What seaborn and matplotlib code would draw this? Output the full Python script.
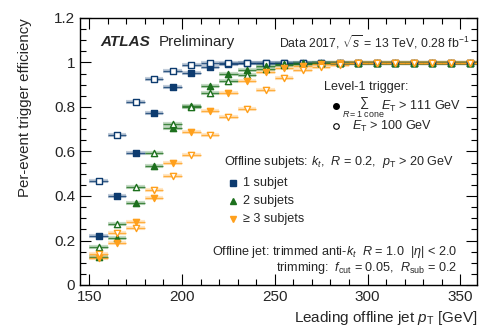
import numpy as np
import pandas as pd
import seaborn as sns
import matplotlib
matplotlib.use("Agg")
import matplotlib.pyplot as plt
from matplotlib.ticker import MultipleLocator

sns.set_theme(style="ticks")
plt.rcParams['font.family'] = ['Liberation Sans', 'DejaVu Sans']
plt.rcParams['mathtext.fontset'] = 'custom'
plt.rcParams['mathtext.rm'] = 'Liberation Sans'
plt.rcParams['mathtext.it'] = 'Liberation Sans:italic'
plt.rcParams['mathtext.bf'] = 'Liberation Sans:bold'

# ---- data ----
pt_bins = [155, 165, 175, 185, 195, 205, 215, 225, 235, 245, 255,
           265, 275, 285, 295, 305, 315, 325, 335, 345, 355]
one_filled = [0.222, 0.401, 0.592, 0.775, 0.888, 0.951, 0.979, 0.993, 0.998, 1.0, 1.0,
              1.0, 1.0, 1.0, 1.0, 1.0, 1.0, 1.0, 1.0, 1.0, 1.0]
one_open = [0.467, 0.674, 0.824, 0.925, 0.963, 0.987, 0.997, 0.999, 1.0, 1.0, 1.0,
            1.0, 1.0, 1.0, 1.0, 1.0, 1.0, 1.0, 1.0, 1.0, 1.0]
two_filled = [0.127, 0.213, 0.367, 0.536, 0.704, 0.803, 0.894, 0.948, 0.966, 0.984, 0.993,
              0.997, 0.999, 1.0, 1.0, 1.0, 1.0, 1.0, 1.0, 1.0, 1.0]
two_open = [0.172, 0.274, 0.442, 0.592, 0.724, 0.801, 0.862, 0.918, 0.944, 0.971, 0.988,
            0.995, 0.998, 1.0, 1.0, 1.0, 1.0, 1.0, 1.0, 1.0, 1.0]
three_filled = [0.120, 0.187, 0.285, 0.390, 0.547, 0.686, 0.783, 0.862, 0.918, 0.959, 0.974,
                0.985, 0.993, 0.997, 1.0, 1.0, 1.0, 1.0, 1.0, 1.0, 1.0]
three_open = [0.139, 0.232, 0.258, 0.427, 0.490, 0.584, 0.674, 0.757, 0.790, 0.876, 0.929,
              0.966, 0.981, 0.990, 0.996, 1.0, 1.0, 1.0, 1.0, 1.0, 1.0]
bin_half_width = 5

navy = '#0d3b6f'
green = '#1d701d'
orange = '#ffa01c'

series = [
    ("1 subjet, sum", one_filled, navy, 's', True),
    ("1 subjet, single", one_open, navy, 's', False),
    ("2 subjets, sum", two_filled, green, '^', True),
    ("2 subjets, single", two_open, green, '^', False),
    (">=3 subjets, sum", three_filled, orange, 'v', True),
    (">=3 subjets, single", three_open, orange, 'v', False),
]

fig = plt.figure(figsize=(4.84, 3.32), dpi=100)
ax = fig.add_axes([80/484, 47/332, 397/484, 267/332])

for name, vals, col, mk, filled in series:
    df = pd.DataFrame({"pt": pt_bins, "eff": vals})
    ax.errorbar(df["pt"], df["eff"], xerr=bin_half_width, fmt='none',
                ecolor=col, elinewidth=3.0, alpha=0.25, zorder=2)
    ax.errorbar(df["pt"], df["eff"], xerr=bin_half_width, fmt='none',
                ecolor=col, elinewidth=1.0, alpha=0.8, zorder=3)
    sns.scatterplot(data=df, x="pt", y="eff", ax=ax, marker=mk, s=20,
                    color=col if filled else 'white', edgecolor=col,
                    linewidth=1.0, zorder=4, legend=False)

ax.set_xlim(145, 359)
ax.set_ylim(0, 1.2)
ax.xaxis.set_major_locator(MultipleLocator(50))
ax.xaxis.set_minor_locator(MultipleLocator(10))
ax.yaxis.set_major_locator(MultipleLocator(0.2))
ax.yaxis.set_minor_locator(MultipleLocator(0.05))
ax.yaxis.set_major_formatter(matplotlib.ticker.FuncFormatter(lambda v, p: f"{v:g}"))
ax.tick_params(which='both', direction='in', top=True, right=True, labelsize=11,
               color='black', width=0.8)
ax.tick_params(which='major', length=8)
ax.tick_params(which='minor', length=4)
for s in ax.spines.values():
    s.set_linewidth(1.0)
    s.set_color('black')

ax.set_xlabel(r"Leading offline jet $p_{\rm T}$ [GeV]", fontsize=11)
ax.set_ylabel("Per-event trigger efficiency", fontsize=10.8)
ax.xaxis.label.set(ha='right', va='center')
ax.yaxis.label.set(ha='right', va='center', rotation_mode='anchor')
ax.xaxis.set_label_coords(1.0, -0.125)
ax.yaxis.set_label_coords(-0.138, 1.0)

def axp(px, py):
    return ((px - 80) / 397, (285 - py) / 267)

fs = 9.1
tr = ax.transAxes
ax.text(*axp(100, 42), "ATLAS", fontsize=11, fontweight='bold', fontstyle='italic',
        transform=tr, va='center')
ax.text(*axp(159, 42), "Preliminary", fontsize=11, transform=tr, va='center')
ax.text(*axp(470, 42), r"Data 2017, $\sqrt{s}$ = 13 TeV, 0.28 fb$^{-1}$", fontsize=8.8,
        transform=tr, va='center', ha='right')

ax.text(*axp(324, 87), "Level-1 trigger:", fontsize=fs, transform=tr, va='center')
ax.plot(*axp(336, 106), marker='o', ms=4, color='black', transform=tr, clip_on=False)
ax.text(*axp(342, 108), r"$\sum_{R=1\ \mathrm{cone}}$", fontsize=fs, transform=tr, va='center')
ax.text(*axp(381, 106), r"$E_{\rm T}$ > 111 GeV", fontsize=fs, transform=tr, va='center')
ax.plot(*axp(336, 126), marker='o', ms=4, mfc='white', mec='black', mew=0.8,
        transform=tr, clip_on=False)
ax.text(*axp(352, 126), r"$E_{\rm T}$ > 100 GeV", fontsize=fs, transform=tr, va='center')

ax.text(*axp(224, 162), r"Offline subjets: $k_{t}$,  $R$ = 0.2,  $p_{\rm T}$ > 20 GeV",
        fontsize=fs, transform=tr, va='center')
legend_rows = [("1 subjet", navy, 's', 183), ("2 subjets", green, '^', 201),
               ("\u2265 3 subjets", orange, 'v', 219)]
for lab, col, mk, py in legend_rows:
    ax.plot(*axp(233, py), marker=mk, ms=4, color=col, transform=tr, clip_on=False)
    ax.text(*axp(243, py), lab, fontsize=fs, transform=tr, va='center')

ax.text(*axp(457, 252), r"Offline jet: trimmed anti-$k_{t}$  $R$ = 1.0  |$\eta$| < 2.0",
        fontsize=fs, transform=tr, va='center', ha='right')
ax.text(*axp(457, 268), r"trimming:  $f_{\rm cut}$ = 0.05,  $R_{\rm sub}$ = 0.2",
        fontsize=fs, transform=tr, va='center', ha='right')

fig.savefig("out.png", dpi=100)
